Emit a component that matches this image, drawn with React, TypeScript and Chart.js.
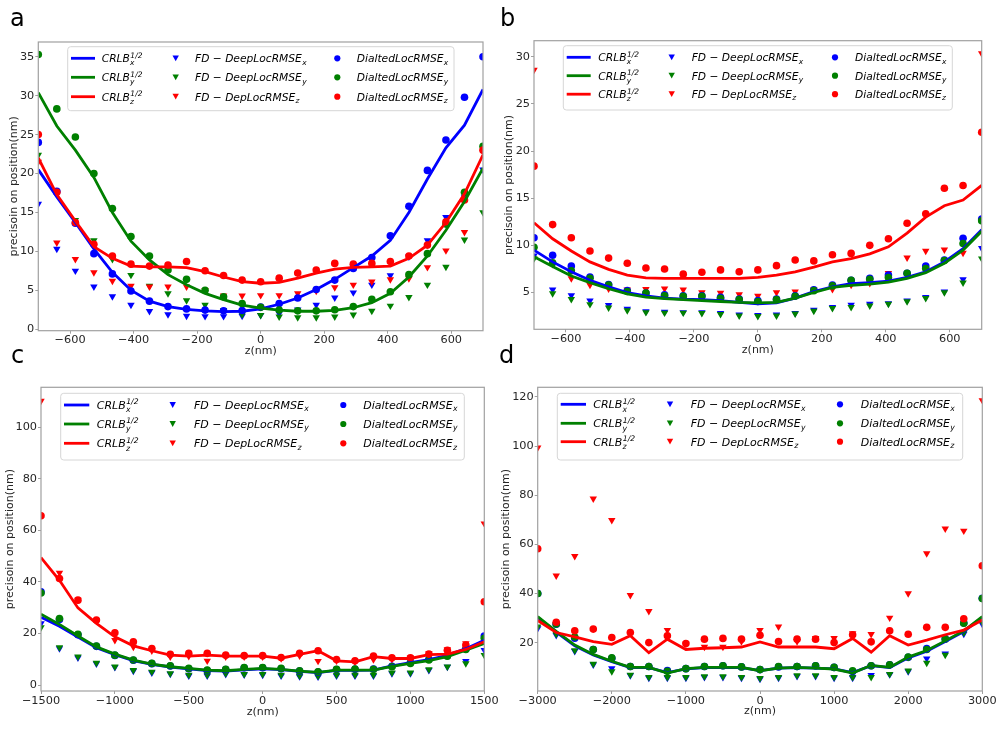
import React, { useEffect, useRef } from "react";
import { Chart, registerables } from "chart.js";

Chart.register(...registerables);

const FONT = "DejaVu Sans";
const BLUE = "#0000ff";
const GREEN = "#008000";
const RED = "#ff0000";
const FRAME = "#a0a0a0";
const TEXT = "#262626";

// ---------- x positions ----------
const zA = [-700, -641.7, -583.3, -525, -466.7, -408.3, -350, -291.7, -233.3, -175, -116.7, -58.3, 0, 58.3, 116.7, 175, 233.3, 291.7, 350, 408.3, 466.7, 525, 583.3, 641.7, 700];
const zC = [-1500, -1375, -1250, -1125, -1000, -875, -750, -625, -500, -375, -250, -125, 0, 125, 250, 375, 500, 625, 750, 875, 1000, 1125, 1250, 1375, 1500];
const zD = [-3000, -2750, -2500, -2250, -2000, -1750, -1500, -1250, -1000, -750, -500, -250, 0, 250, 500, 750, 1000, 1250, 1500, 1750, 2000, 2250, 2500, 2750, 3000];

// ---------- tick labels ----------
const xTicksAB = [-600, -400, -200, 0, 200, 400, 600];
const xTicksC = [-1500, -1000, -500, 0, 500, 1000, 1500];
const xTicksD = [-3000, -2000, -1000, 0, 1000, 2000, 3000];
const yTicksA = [0, 5, 10, 15, 20, 25, 30, 35];
const yTicksB = [5, 10, 15, 20, 25, 30];
const yTicksC = [0, 20, 40, 60, 80, 100];
const yTicksD = [20, 40, 60, 80, 100, 120];

// ---------- panel a ----------
const aCrlbX = [20.5, 17.0, 13.7, 10.3, 7.3, 5.0, 3.6, 2.9, 2.55, 2.35, 2.25, 2.3, 2.6, 3.2, 4.0, 5.1, 6.4, 7.9, 9.4, 11.4, 15.0, 19.3, 23.3, 26.2, 30.8];
const aCrlbY = [30.4, 26.1, 23.0, 19.5, 15.0, 11.3, 8.9, 7.0, 5.7, 4.6, 3.8, 3.1, 2.7, 2.45, 2.3, 2.3, 2.4, 2.75, 3.4, 4.6, 6.7, 9.4, 12.7, 16.4, 20.7];
const aCrlbZ = [22.0, 17.3, 13.9, 10.6, 9.1, 8.1, 8.0, 8.0, 7.9, 7.4, 6.7, 6.1, 5.9, 6.0, 6.55, 7.2, 7.7, 7.95, 8.0, 8.1, 9.1, 10.8, 13.7, 17.4, 22.4];
const aFdX = [16.1, 10.3, 7.5, 5.45, 4.2, 3.1, 2.3, 1.9, 1.7, 1.65, 1.65, 1.7, 1.8, 2.0, 2.5, 3.1, 4.05, 4.7, 5.7, 6.9, 9.3, 11.4, 14.4, 17.0, 20.5];
const aFdY = [22.4, 17.5, 14.0, 11.4, 9.0, 6.95, 5.55, 4.6, 3.7, 3.1, 2.45, 1.9, 1.8, 1.6, 1.5, 1.5, 1.6, 1.85, 2.35, 3.0, 4.1, 5.7, 8.0, 11.5, 15.0];
const aFdZ = [21.5, 11.1, 9.0, 7.3, 6.2, 5.55, 5.45, 5.45, 5.45, 5.0, 4.3, 4.3, 4.35, 4.35, 4.6, 4.9, 5.35, 5.7, 6.1, 6.4, 6.5, 7.95, 10.1, 12.45, 22.8];
const aDlX = [24.0, 17.7, 13.6, 9.7, 7.1, 4.9, 3.6, 2.9, 2.6, 2.45, 2.35, 2.4, 2.85, 3.3, 4.0, 5.1, 6.3, 7.8, 9.2, 12.0, 15.8, 20.4, 24.3, 29.8, 35.0];
const aDlY = [35.3, 28.3, 24.7, 20.0, 15.5, 11.9, 9.4, 7.6, 6.4, 5.0, 4.15, 3.3, 2.8, 2.45, 2.35, 2.35, 2.5, 2.9, 3.85, 4.8, 7.0, 9.7, 13.5, 17.6, 23.5];
const aDlZ = [25.0, 17.6, 13.7, 10.9, 9.4, 8.35, 8.1, 8.25, 8.7, 7.5, 6.9, 6.3, 6.1, 6.55, 7.2, 7.6, 8.45, 8.35, 8.45, 8.7, 9.4, 10.8, 13.8, 16.6, 23.0];

// ---------- panel b ----------
const bCrlbX = [9.5, 8.25, 7.2, 6.3, 5.6, 5.0, 4.65, 4.4, 4.3, 4.25, 4.15, 3.95, 3.8, 3.9, 4.4, 5.1, 5.6, 5.95, 6.05, 6.2, 6.6, 7.2, 8.25, 9.65, 11.65];
const bCrlbY = [8.8, 7.75, 6.75, 6.05, 5.4, 4.85, 4.5, 4.35, 4.25, 4.15, 4.05, 3.95, 3.9, 3.95, 4.4, 5.0, 5.55, 5.75, 5.9, 6.1, 6.5, 7.1, 8.1, 9.5, 11.5];
const bCrlbZ = [12.4, 10.7, 9.4, 8.25, 7.45, 6.85, 6.55, 6.5, 6.5, 6.5, 6.5, 6.5, 6.6, 6.85, 7.2, 7.7, 8.25, 8.6, 9.1, 9.85, 11.3, 13.0, 14.2, 14.8, 16.35];
const bFdX = [8.9, 5.3, 4.7, 4.15, 3.65, 3.25, 3.0, 2.95, 2.9, 2.9, 2.8, 2.65, 2.6, 2.65, 2.8, 3.15, 3.45, 3.7, 3.8, 3.85, 4.15, 4.5, 5.1, 6.4, 9.7];
const bFdY = [8.6, 4.9, 4.3, 3.75, 3.4, 3.1, 2.9, 2.85, 2.85, 2.8, 2.7, 2.55, 2.5, 2.55, 2.75, 3.05, 3.35, 3.45, 3.6, 3.8, 4.05, 4.4, 5.0, 6.05, 8.6];
const bFdZ = [28.6, 8.0, 6.5, 5.8, 5.4, 5.3, 5.35, 5.4, 5.3, 5.0, 4.95, 4.8, 4.65, 5.0, 5.1, 5.3, 5.35, 5.8, 6.0, 7.05, 8.7, 9.4, 9.55, 9.2, 30.35];
const bDlX = [10.8, 8.95, 7.8, 6.65, 5.85, 5.2, 4.95, 4.75, 4.65, 4.65, 4.5, 4.3, 4.15, 4.3, 4.65, 5.3, 5.8, 6.3, 6.5, 6.85, 7.05, 7.8, 8.45, 10.75, 12.8];
const bDlY = [9.8, 8.15, 7.3, 6.5, 5.8, 5.1, 4.95, 4.65, 4.6, 4.6, 4.4, 4.25, 4.05, 4.25, 4.6, 5.2, 5.7, 6.3, 6.4, 6.6, 7.05, 7.55, 8.4, 10.2, 12.6];
const bDlZ = [18.4, 12.2, 10.8, 9.4, 8.65, 8.1, 7.6, 7.5, 6.95, 7.15, 7.4, 7.2, 7.4, 7.85, 8.45, 8.35, 9.0, 9.15, 10.0, 10.7, 12.35, 13.35, 16.05, 16.35, 22.0];

// ---------- panel c ----------
const cCrlbX = [26.3, 22.8, 18.6, 14.5, 11.8, 9.5, 8.0, 7.0, 6.3, 5.6, 5.4, 5.9, 6.3, 6.0, 5.3, 4.8, 5.7, 5.7, 5.8, 7.4, 8.7, 9.9, 11.5, 14.1, 17.4];
const cCrlbY = [27.5, 23.5, 19.0, 14.8, 12.0, 9.7, 8.1, 7.1, 6.45, 5.8, 5.55, 6.1, 6.45, 6.1, 5.4, 4.9, 5.8, 5.8, 5.8, 7.2, 8.4, 9.5, 11.0, 13.5, 16.1];
const cCrlbZ = [49.4, 40.6, 29.9, 23.9, 18.7, 15.2, 13.3, 11.6, 11.2, 11.6, 11.2, 11.2, 11.2, 10.4, 11.9, 13.3, 9.4, 9.0, 11.0, 10.3, 10.3, 11.8, 12.0, 13.8, 16.8];
const cFdX = [23.9, 14.2, 10.6, 8.3, 6.9, 5.5, 4.8, 4.3, 3.6, 3.6, 4.2, 4.0, 3.9, 3.6, 3.3, 3.2, 3.6, 3.6, 3.6, 4.5, 4.5, 5.8, 7.0, 9.3, 13.5];
const cFdY = [22.3, 14.6, 11.0, 8.6, 7.1, 5.8, 5.15, 4.5, 3.9, 3.9, 4.5, 4.25, 4.25, 3.9, 3.6, 3.5, 3.9, 3.9, 3.9, 4.8, 4.8, 6.1, 7.1, 8.4, 11.6];
const cFdZ = [110.1, 43.5, 33.0, 25.0, 17.4, 14.8, 13.3, 11.0, 11.2, 9.4, 11.0, 11.0, 11.0, 10.3, 11.4, 9.3, 9.4, 9.0, 9.9, 9.9, 10.6, 12.3, 13.8, 16.1, 62.6];
const cDlX = [36.1, 25.4, 19.5, 15.0, 11.5, 9.6, 8.3, 7.4, 6.3, 5.6, 6.0, 6.7, 6.7, 6.3, 5.4, 5.0, 6.0, 6.1, 6.2, 7.3, 8.7, 10.0, 11.4, 14.0, 19.0];
const cDlY = [35.7, 25.8, 19.7, 15.1, 11.6, 9.7, 8.4, 7.5, 6.45, 5.8, 6.1, 6.8, 6.8, 6.45, 5.55, 5.15, 6.1, 6.2, 6.1, 7.1, 8.4, 9.7, 11.2, 13.8, 18.1];
const cDlZ = [65.6, 41.3, 32.9, 25.2, 20.3, 16.8, 14.2, 11.9, 12.3, 12.3, 11.6, 11.4, 11.4, 10.7, 12.3, 13.3, 9.9, 9.4, 11.2, 10.6, 10.6, 12.0, 13.5, 15.5, 32.3];

// ---------- panel d ----------
const dCrlbX = [30.2, 24.3, 18.7, 15.0, 12.2, 9.8, 9.8, 7.8, 9.3, 9.8, 9.8, 9.8, 8.6, 9.6, 9.8, 9.6, 9.3, 7.8, 10.6, 9.8, 13.8, 16.5, 20.4, 24.5, 30.3];
const dCrlbY = [30.6, 24.6, 19.0, 15.2, 12.4, 9.9, 9.9, 7.6, 9.4, 9.9, 9.9, 9.9, 8.55, 9.65, 9.9, 9.65, 9.25, 7.6, 10.75, 9.9, 14.1, 16.8, 20.7, 24.8, 30.6];
const dCrlbZ = [29.0, 24.1, 22.3, 20.4, 19.3, 22.8, 15.9, 21.4, 17.2, 17.7, 17.9, 18.2, 20.3, 18.2, 18.2, 18.2, 17.5, 21.7, 16.1, 22.8, 19.0, 21.0, 23.2, 25.1, 29.2];
const dFdX = [25.8, 23.0, 16.5, 11.0, 9.5, 6.6, 5.6, 5.6, 5.6, 5.9, 5.9, 5.6, 5.2, 5.6, 6.3, 6.3, 5.6, 5.6, 6.8, 7.0, 8.3, 13.5, 15.5, 23.5, 27.5];
const dFdY = [26.5, 23.4, 16.8, 11.3, 8.3, 6.9, 5.9, 5.9, 5.9, 6.2, 6.2, 5.9, 5.5, 5.9, 6.6, 6.6, 5.9, 5.9, 5.9, 7.2, 8.55, 11.7, 15.0, 24.0, 28.3];
const dFdZ = [99.3, 47.2, 55.2, 78.6, 69.8, 39.3, 32.8, 25.1, 19.5, 18.2, 18.2, 20.5, 25.1, 26.5, 20.5, 21.8, 21.8, 23.7, 23.4, 30.1, 40.0, 56.3, 66.4, 65.5, 118.6];
const dDlX = [40.0, 27.5, 21.8, 17.2, 13.6, 10.3, 10.3, 8.6, 9.4, 10.3, 10.6, 10.1, 9.0, 10.1, 10.3, 10.6, 9.9, 8.2, 10.6, 11.0, 14.0, 17.6, 21.6, 28.0, 38.0];
const dDlY = [40.0, 27.6, 22.3, 17.2, 13.8, 10.3, 10.3, 8.3, 9.4, 10.3, 10.6, 10.1, 9.0, 10.3, 10.3, 10.6, 9.9, 8.55, 10.6, 11.0, 14.1, 17.2, 21.4, 27.9, 37.9];
const dDlZ = [58.2, 28.3, 24.8, 25.5, 22.1, 24.1, 20.0, 22.8, 19.6, 21.4, 21.7, 21.4, 23.0, 20.4, 21.4, 21.4, 20.0, 23.2, 20.3, 24.8, 23.4, 26.2, 26.2, 29.7, 51.3];

// ---------- labels ----------
const Y_TITLE = "precisoin on position(nm)";
const X_TITLE = "z(nm)";
const CRLB_LABELS: [string, string, string][] = [
  ["CRLB", "x", "1/2"],
  ["CRLB", "y", "1/2"],
  ["CRLB", "z", "1/2"],
];
const FD_LABELS: [string, string][] = [
  ["FD \u2212 DeepLocRMSE", "x"],
  ["FD \u2212 DeepLocRMSE", "y"],
  ["FD \u2212 DepLocRMSE", "z"],
];
const DL_LABELS: [string, string][] = [
  ["DialtedLocRMSE", "x"],
  ["DialtedLocRMSE", "y"],
  ["DialtedLocRMSE", "z"],
];
const COLORS = [BLUE, GREEN, RED];

type Area = { left: number; top: number; right: number; bottom: number };
type LegendSpec = {
  box: [number, number, number, number];
  lineX: [number, number];
  text1: number;
  mark2: number;
  text2: number;
  mark3: number;
  text3: number;
  rows: [number, number, number];
  fs: number;
};
type Panel = {
  letter: string;
  left: number;
  top: number;
  w: number;
  h: number;
  area: Area;
  z: number[];
  xMin: number;
  xMax: number;
  yMin: number;
  yMax: number;
  xTicks: number[];
  yTicks: number[];
  crlb: number[][];
  fd: number[][];
  dl: number[][];
  legend: LegendSpec;
  yTitleX: number;
  xTitleY: number;
  letterPos: [number, number];
};

const PANELS: Panel[] = [
  {
    letter: "a", left: 0, top: 0, w: 500, h: 360,
    area: { left: 38.3, top: 42, right: 483, bottom: 330.7 },
    z: zA, xMin: -700, xMax: 700, yMin: -0.2, yMax: 36.9,
    xTicks: xTicksAB, yTicks: yTicksA,
    crlb: [aCrlbX, aCrlbY, aCrlbZ], fd: [aFdX, aFdY, aFdZ], dl: [aDlX, aDlY, aDlZ],
    legend: { box: [67.7, 46.7, 454, 110.7], lineX: [71, 95], text1: 101.7, mark2: 175.7, text2: 195, mark3: 337.3, text3: 356.7, rows: [58.3, 77.3, 96.7], fs: 10.7 },
    yTitleX: 14, xTitleY: 350.7, letterPos: [10, 6],
  },
  {
    letter: "b", left: 500, top: 0, w: 500, h: 360,
    area: { left: 34, top: 40.7, right: 481.7, bottom: 329.3 },
    z: zA, xMin: -700, xMax: 700, yMin: 1.1, yMax: 31.7,
    xTicks: xTicksAB, yTicks: yTicksB,
    crlb: [bCrlbX, bCrlbY, bCrlbZ], fd: [bFdX, bFdY, bFdZ], dl: [bDlX, bDlY, bDlZ],
    legend: { box: [63.3, 45.7, 452.3, 110], lineX: [66.7, 90.7], text1: 98.3, mark2: 171.7, text2: 191.7, mark3: 335, text3: 355, rows: [57.3, 75.7, 94.2], fs: 10.7 },
    yTitleX: 9, xTitleY: 350, letterPos: [500, 6],
  },
  {
    letter: "c", left: 0, top: 360, w: 500, h: 372,
    area: { left: 41, top: 27.3, right: 484.3, bottom: 331 },
    z: zC, xMin: -1500, xMax: 1500, yMin: -2.3, yMax: 115.4,
    xTicks: xTicksC, yTicks: yTicksC,
    crlb: [cCrlbX, cCrlbY, cCrlbZ], fd: [cFdX, cFdY, cFdZ], dl: [cDlX, cDlY, cDlZ],
    legend: { box: [60.7, 33.3, 464.3, 100], lineX: [64, 89.3], text1: 96.7, mark2: 172.7, text2: 194, mark3: 343.3, text3: 363.3, rows: [45, 64, 83.3], fs: 11 },
    yTitleX: 10, xTitleY: 351.7, letterPos: [11, 343],
  },
  {
    letter: "d", left: 500, top: 360, w: 500, h: 372,
    area: { left: 37.7, top: 27.3, right: 482.3, bottom: 331 },
    z: zD, xMin: -3000, xMax: 3000, yMin: 0.3, yMax: 123.9,
    xTicks: xTicksD, yTicks: yTicksD,
    crlb: [dCrlbX, dCrlbY, dCrlbZ], fd: [dFdX, dFdY, dFdZ], dl: [dDlX, dDlY, dDlZ],
    legend: { box: [57.3, 33.3, 462.7, 100], lineX: [60.7, 86], text1: 93.3, mark2: 170, text2: 190.7, mark3: 340, text3: 360.7, rows: [44.3, 63.3, 81.7], fs: 11 },
    yTitleX: 6, xTitleY: 351, letterPos: [499, 343],
  },
];

const TICK_FS = 11.3;
const TITLE_FS = 11;

function fmtTick(v: number): string {
  return v < 0 ? "\u2212" + Math.abs(v) : String(v);
}

function drawMath(ctx: CanvasRenderingContext2D, x: number, y: number, base: string, sub: string, sup: string | null, fs: number) {
  ctx.save();
  ctx.fillStyle = "#000";
  ctx.textAlign = "left";
  ctx.textBaseline = "alphabetic";
  ctx.font = `italic ${fs}px "${FONT}"`;
  const baseline = y + fs * 0.36;
  ctx.fillText(base, x, baseline);
  const w = ctx.measureText(base).width;
  const sfs = fs * 0.7;
  ctx.font = `italic ${sfs}px "${FONT}"`;
  if (sup) {
    ctx.fillText(sup, x + w + 0.5, baseline - fs * 0.42);
    ctx.fillText(sub, x + w + 0.2, baseline + fs * 0.3);
  } else {
    ctx.fillText(sub, x + w + 0.3, baseline + fs * 0.22);
  }
  ctx.restore();
}

function triangleDown(ctx: CanvasRenderingContext2D, x: number, y: number, r: number, color: string) {
  ctx.beginPath();
  ctx.moveTo(x - r, y - r * 0.9);
  ctx.lineTo(x + r, y - r * 0.9);
  ctx.lineTo(x, y + r * 0.9);
  ctx.closePath();
  ctx.fillStyle = color;
  ctx.fill();
}

function legendPlugin(p: Panel) {
  return {
    id: "mplLegend" + p.letter,
    afterDraw(chart: Chart) {
      const ctx = chart.ctx;
      const L = p.legend;
      const [x0, y0, x1, y1] = L.box;
      ctx.save();
      const r = 3;
      ctx.beginPath();
      ctx.moveTo(x0 + r, y0);
      ctx.lineTo(x1 - r, y0);
      ctx.quadraticCurveTo(x1, y0, x1, y0 + r);
      ctx.lineTo(x1, y1 - r);
      ctx.quadraticCurveTo(x1, y1, x1 - r, y1);
      ctx.lineTo(x0 + r, y1);
      ctx.quadraticCurveTo(x0, y1, x0, y1 - r);
      ctx.lineTo(x0, y0 + r);
      ctx.quadraticCurveTo(x0, y0, x0 + r, y0);
      ctx.closePath();
      ctx.fillStyle = "rgba(255,255,255,0.8)";
      ctx.fill();
      ctx.strokeStyle = "#d6d6d6";
      ctx.lineWidth = 1;
      ctx.stroke();
      for (let i = 0; i < 3; i++) {
        const yy = L.rows[i];
        const col = COLORS[i];
        ctx.beginPath();
        ctx.moveTo(L.lineX[0], yy);
        ctx.lineTo(L.lineX[1], yy);
        ctx.strokeStyle = col;
        ctx.lineWidth = 2.8;
        ctx.stroke();
        drawMath(ctx, L.text1, yy, CRLB_LABELS[i][0], CRLB_LABELS[i][1], CRLB_LABELS[i][2], L.fs);
        triangleDown(ctx, L.mark2, yy, 3.2, col);
        drawMath(ctx, L.text2, yy, FD_LABELS[i][0], FD_LABELS[i][1], null, L.fs);
        ctx.beginPath();
        ctx.arc(L.mark3, yy, 3.1, 0, Math.PI * 2);
        ctx.fillStyle = col;
        ctx.fill();
        drawMath(ctx, L.text3, yy, DL_LABELS[i][0], DL_LABELS[i][1], null, L.fs);
      }
      ctx.restore();
    },
  };
}

const framePlugin = {
  id: "mplFrame",
  afterDatasetsDraw(chart: Chart) {
    const { ctx, chartArea } = chart;
    ctx.save();
    ctx.strokeStyle = FRAME;
    ctx.lineWidth = 1.2;
    ctx.strokeRect(chartArea.left, chartArea.top, chartArea.right - chartArea.left, chartArea.bottom - chartArea.top);
    ctx.restore();
  },
};

function buildConfig(p: Panel): any {
  const pts = (ys: number[]) => p.z.map((x, i) => ({ x, y: ys[i] }));
  const datasets: any[] = [];
  for (let i = 0; i < 3; i++) {
    datasets.push({
      label: FD_LABELS[i][0] + FD_LABELS[i][1],
      data: pts(p.fd[i]),
      pointStyle: "triangle",
      rotation: 180,
      pointRadius: 4.3,
      backgroundColor: COLORS[i],
      borderColor: COLORS[i],
      borderWidth: 0,
      showLine: false,
      clip: 0,
      order: 9 - i,
    });
  }
  for (let i = 0; i < 3; i++) {
    datasets.push({
      label: DL_LABELS[i][0] + DL_LABELS[i][1],
      data: pts(p.dl[i]),
      pointStyle: "circle",
      pointRadius: 3.8,
      backgroundColor: COLORS[i],
      borderColor: COLORS[i],
      borderWidth: 0,
      showLine: false,
      clip: 0,
      order: 6 - i,
    });
  }
  for (let i = 0; i < 3; i++) {
    datasets.push({
      label: CRLB_LABELS[i][0] + CRLB_LABELS[i][1],
      data: pts(p.crlb[i]),
      showLine: true,
      pointRadius: 0,
      borderColor: COLORS[i],
      backgroundColor: COLORS[i],
      borderWidth: 2.8,
      tension: 0,
      fill: false,
      clip: 0,
      order: 3 - i,
    });
  }
  const tickFont = { family: FONT, size: TICK_FS };
  const titleFont = { family: FONT, size: TITLE_FS };
  const half = (TITLE_FS * 1.2) / 2;
  return {
    type: "scatter",
    data: { datasets },
    options: {
      responsive: false,
      animation: false,
      events: [],
      layout: { padding: { left: 0, top: p.area.top, right: p.w - p.area.right, bottom: 0 } },
      plugins: { legend: { display: false }, tooltip: { enabled: false }, title: { display: false } },
      scales: {
        x: {
          type: "linear",
          position: "bottom",
          min: p.xMin,
          max: p.xMax,
          afterBuildTicks: (s: any) => {
            s.ticks = p.xTicks.map((v) => ({ value: v }));
          },
          afterFit: (s: any) => {
            s.height = p.h - p.area.bottom;
          },
          ticks: { autoSkip: false, maxRotation: 0, minRotation: 0, padding: 0, color: TEXT, font: tickFont, callback: (v: number) => fmtTick(v) },
          grid: { display: true, drawOnChartArea: false, drawTicks: true, tickLength: 3, color: FRAME, lineWidth: 1 },
          border: { display: false },
          title: { display: true, text: X_TITLE, color: TEXT, font: titleFont, padding: { top: 0, bottom: p.h - p.xTitleY - half } },
        },
        y: {
          type: "linear",
          position: "left",
          min: p.yMin,
          max: p.yMax,
          afterBuildTicks: (s: any) => {
            s.ticks = p.yTicks.map((v) => ({ value: v }));
          },
          afterFit: (s: any) => {
            s.width = p.area.left;
          },
          ticks: { autoSkip: false, padding: 1, color: TEXT, font: tickFont, callback: (v: number) => fmtTick(v) },
          grid: { display: true, drawOnChartArea: false, drawTicks: true, tickLength: 3, color: FRAME, lineWidth: 1 },
          border: { display: false },
          title: { display: true, text: Y_TITLE, color: TEXT, font: titleFont, padding: { top: p.yTitleX - half, bottom: 0 } },
        },
      },
    },
    plugins: [framePlugin, legendPlugin(p)],
  };
}

function PanelChart({ p }: { p: Panel }) {
  const ref = useRef<HTMLCanvasElement>(null);
  useEffect(() => {
    if (!ref.current) return;
    const chart = new Chart(ref.current, buildConfig(p));
    return () => chart.destroy();
  }, [p]);
  return (
    <div style={{ position: "absolute", left: p.left, top: p.top, width: p.w, height: p.h }}>
      <canvas ref={ref} width={p.w} height={p.h} style={{ width: p.w, height: p.h, display: "block" }} />
    </div>
  );
}

export default function App() {
  return (
    <div style={{ position: "fixed", left: 0, top: 0, width: 1000, height: 732, background: "#fff", overflow: "hidden" }}>
      {PANELS.map((p) => (
        <PanelChart key={p.letter} p={p} />
      ))}
      {PANELS.map((p) => (
        <div
          key={"l" + p.letter}
          style={{
            position: "absolute",
            left: p.letterPos[0],
            top: p.letterPos[1],
            fontFamily: FONT,
            fontSize: 24,
            lineHeight: "24px",
            color: "#000",
          }}
        >
          {p.letter}
        </div>
      ))}
    </div>
  );
}
